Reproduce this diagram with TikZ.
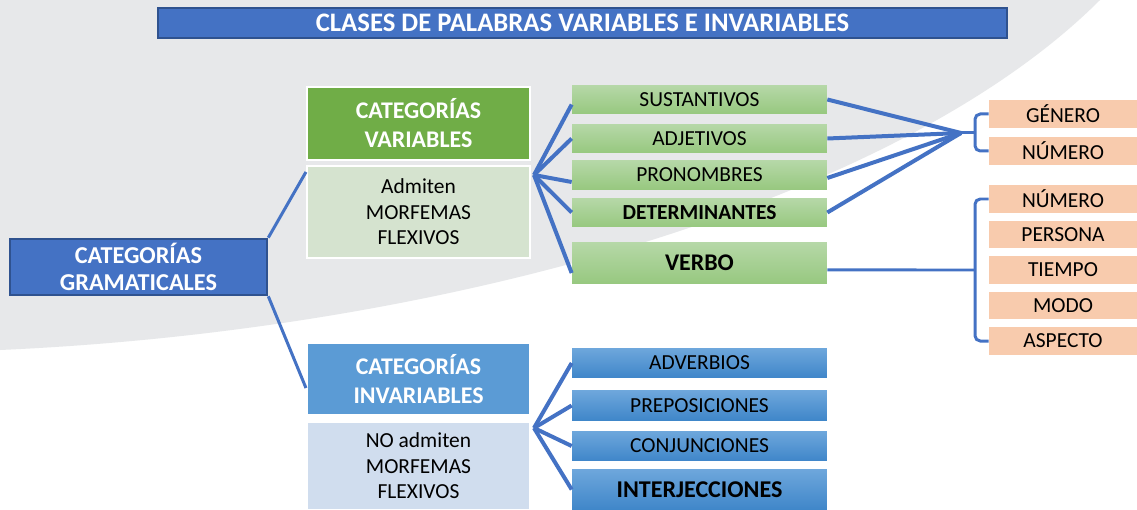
\documentclass[tikz,border=0pt]{standalone}
\usepackage{fontspec}
\setmainfont{Carlito}

\definecolor{mainblue}{HTML}{4472C4}
\definecolor{edgeblue}{HTML}{2F528F}
\definecolor{varhead}{HTML}{70AD47}
\definecolor{varbody}{HTML}{D5E3CF}
\definecolor{invhead}{HTML}{5B9BD5}
\definecolor{invbody}{HTML}{D0DDEE}
\definecolor{greentop}{HTML}{B6D8A8}
\definecolor{greenbot}{HTML}{97C87F}
\definecolor{bluetop}{HTML}{6EA7DC}
\definecolor{bluebot}{HTML}{3F86C9}
\definecolor{peach}{HTML}{F8CBAD}
\definecolor{bggrey}{HTML}{E7E8EA}

\tikzset{
  every node/.style={inner sep=0pt, align=center},
  link/.style={draw=mainblue, line width=0.06cm},
  fan/.style={draw=mainblue, line width=0.08cm},
  bigbox/.style={fill=mainblue, draw=edgeblue, line width=1.5pt, text=white,
    font=\fontsize{13.8}{15.5}\selectfont\bfseries},
  headbox/.style={draw=white, line width=1.2pt, text=white, minimum width=4.46cm,
    font=\fontsize{13.6}{16.5}\selectfont\bfseries},
  bodybox/.style={draw=white, line width=1.2pt, minimum width=4.46cm,
    font=\fontsize{12.2}{14.5}\selectfont},
  greenbox/.style={top color=greentop, bottom color=greenbot, minimum width=5.1cm,
    minimum height=0.58cm, font=\fontsize{12.2}{13}\selectfont},
  bluebox/.style={top color=bluetop, bottom color=bluebot, minimum width=5.1cm,
    minimum height=0.6cm, font=\fontsize{12.2}{13}\selectfont},
  peachbox/.style={fill=peach, minimum width=2.96cm, minimum height=0.56cm,
    font=\fontsize{12.2}{13}\selectfont}
}

\begin{document}
\begin{tikzpicture}[x=0.02cm, y=-0.02cm]
\useasboundingbox (0,0) rectangle (1137,510);
% background
\fill[white] (0,0) rectangle (1137,510);
\fill[bggrey] (1100,0) .. controls (900,200) and (450,330) .. (0,350) -- (0,0) -- cycle;

% title and root
\node[bigbox, minimum width=16.98cm, minimum height=0.6cm, font=\fontsize{15.2}{17}\selectfont\bfseries]
  (title) at (582.5,23) {CLASES DE PALABRAS VARIABLES E INVARIABLES};
\node[bigbox, minimum width=5.14cm, minimum height=1.12cm] (gram) at (138.5,267)
  {CATEGORÍAS\\GRAMATICALES};

% variables
\node[headbox, fill=varhead, minimum height=1.46cm] (varhd) at (418.5,123.5) {CATEGORÍAS\\VARIABLES};
\node[bodybox, fill=varbody, minimum height=1.84cm] (varbd) at (418.5,212) {Admiten\\MORFEMAS\\FLEXIVOS};

\node[greenbox] (sust) at (699.5,99.5) {SUSTANTIVOS};
\node[greenbox] (adj) at (699.5,138.5) {ADJETIVOS};
\node[greenbox] (pron) at (699.5,175) {PRONOMBRES};
\node[greenbox, font=\fontsize{12.2}{13}\selectfont\bfseries] (det) at (699.5,212.5) {DETERMINANTES};
\node[greenbox, minimum height=0.84cm, font=\fontsize{13.6}{15}\selectfont\bfseries] (verbo) at (699.5,263) {VERBO};

\node[peachbox] (gen) at (1063,114) {GÉNERO};
\node[peachbox] (num1) at (1063,151) {NÚMERO};
\node[peachbox] (num2) at (1063,199) {NÚMERO};
\node[peachbox] (pers) at (1063,234.5) {PERSONA};
\node[peachbox] (tiem) at (1063,270) {TIEMPO};
\node[peachbox] (modo) at (1063,305.5) {MODO};
\node[peachbox] (asp) at (1063,341) {ASPECTO};

% invariables
\node[headbox, fill=invhead, minimum height=1.44cm] (invhd) at (418.5,379) {CATEGORÍAS\\INVARIABLES};
\node[bodybox, fill=invbody, minimum height=1.76cm] (invbd) at (418.5,466) {NO admiten\\MORFEMAS\\FLEXIVOS};

\node[bluebox] (adv) at (699.5,363) {ADVERBIOS};
\node[bluebox] (prep) at (699.5,405.5) {PREPOSICIONES};
\node[bluebox] (conj) at (699.5,446) {CONJUNCIONES};
\node[bluebox, minimum height=0.82cm, font=\fontsize{13.7}{15}\selectfont\bfseries] (inter) at (699.5,489.5) {INTERJECCIONES};

% connectors
\draw[link] (gram.north east) -- ([yshift=-0.14cm]varbd.north west);
\draw[link] (gram.south east) -- ([yshift=-0.18cm]invhd.west);

\coordinate (vfan) at (534,175);
\draw[fan] (vfan) -- ([yshift=-0.1cm]sust.west);
\draw[fan] (vfan) -- (adj.west);
\draw[fan] (vfan) -- ([yshift=-0.14cm]pron.west);
\draw[fan] (vfan) -- (det.west);
\draw[fan] (vfan) -- ([yshift=-0.2cm]verbo.west);

\coordinate (ifan) at (534,428);
\draw[fan] (ifan) -- (adv.west);
\draw[fan] (ifan) -- (prep.west);
\draw[fan] (ifan) -- (conj.west);
\draw[fan] (ifan) -- (inter.west);

\coordinate (vj) at (961,133);
\coordinate (gnb) at (975,133);
\draw[fan] (sust.east) -- (vj);
\draw[fan] (adj.east) -- (vj);
\draw[fan] ([yshift=-0.06cm]pron.east) -- (vj);
\draw[fan] (det.east) -- (vj);
\draw[link] (vj) -- (gnb);
\draw[link, rounded corners=3pt] (gen.west) -| (gnb) |- (num1.west);

\coordinate (vb) at (975,270);
\draw[link] ([yshift=-0.14cm]verbo.east) -- (vb);
\draw[link, rounded corners=3pt] (num2.west) -| (vb) |- (asp.west);
\end{tikzpicture}
\end{document}
